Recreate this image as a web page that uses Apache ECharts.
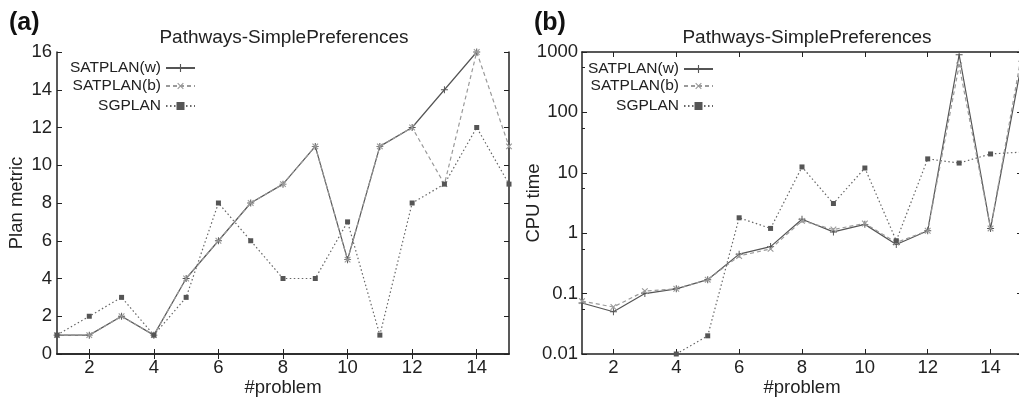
<!DOCTYPE html>
<html>
<head>
<meta charset="utf-8">
<script src="https://cdn.jsdelivr.net/npm/echarts@6/dist/echarts.min.js"></script>
<style>
  html, body { margin: 0; padding: 0; background: #fff; }
  #chart { width: 1019px; height: 399px; }
</style>
</head>
<body>
<div id="chart"></div>
<script>
// problem numbers on x axis
var problems = ['1', '2', '3', '4', '5', '6', '7', '8', '9', '10', '11', '12', '13', '14', '15']

// (a) plan metric
var metricW = [1, 1, 2, 1, 4, 6, 8, 9, 11, 5, 11, 12, 14, 16, null]
var metricB = [1, 1, 2, 1, 4, 6, 8, 9, 11, 5, 11, 12, 9, 16, 11]
var metricSG = [1, 2, 3, 1, 3, 8, 6, 4, 4, 7, 1, 8, 9, 12, 9]

// (b) cpu time (log)
var cpuW = [0.07, 0.05, 0.1, 0.12, 0.17, 0.45, 0.6, 1.7, 1.05, 1.4, 0.65, 1.1, 900, 1.2, 700]
var cpuB = [0.075, 0.06, 0.11, 0.12, 0.17, 0.42, 0.55, 1.6, 1.15, 1.45, 0.7, 1.1, 600, 1.2, 1000]
var cpuSG = [null, null, null, 0.01, 0.02, 1.8, 1.2, 12.5, 3.1, 12, 0.75, 17, 14.5, 20.5, 22]

var FONT = 'Liberation Sans'
var LBL = 18.5 // axis label size
var axisCol = '#222'
var plusPath = 'path://M4.3,0h1.4v4.3h4.3v1.4h-4.3v4.3h-1.4v-4.3h-4.3v-1.4h4.3z'

var evenOnly = function(i) { return i % 2 === 1 }

function bottomX(grid, name) {
  return {
    type: 'category', gridIndex: grid, data: problems, boundaryGap: false,
    name: name, nameLocation: 'middle', nameGap: 24, nameMoveOverlap: false,
    nameTextStyle: { fontFamily: FONT, fontSize: LBL, color: '#222' },
    axisLine: { lineStyle: { color: axisCol, width: 1.5 } },
    axisTick: { inside: true, length: 5, interval: evenOnly, lineStyle: { color: axisCol } },
    axisLabel: { interval: evenOnly, margin: 4, fontFamily: FONT, fontSize: LBL, color: '#222' },
    splitLine: { show: false }
  }
}
function topX(grid) {
  return {
    type: 'category', gridIndex: grid, data: problems, boundaryGap: false, position: 'top',
    axisLine: { lineStyle: { color: axisCol, width: 1.5 } },
    axisTick: { inside: true, length: 5, interval: evenOnly, lineStyle: { color: axisCol } },
    axisLabel: { show: false },
    splitLine: { show: false }
  }
}

var titleStyle = { fontFamily: FONT, fontSize: 19, fontWeight: 'normal', color: '#222' }
var legendText = { fontFamily: FONT, fontSize: 15.5, color: '#222' }

function legendRow(name, right, top) {
  return {
    data: [name], right: right, top: top, align: 'right',
    itemWidth: 29, itemHeight: 10, itemGap: 0,
    textStyle: legendText, selectedMode: false, padding: 0
  }
}

function lineSeries(name, xi, yi, data, style) {
  return Object.assign({
    name: name, type: 'line', xAxisIndex: xi, yAxisIndex: yi, data: data,
    connectNulls: false, animation: false
  }, style)
}

var styleW = {
  symbol: plusPath, symbolSize: 7,
  lineStyle: { color: '#555', width: 1.2, type: 'solid' },
  itemStyle: { color: '#555' }
}
var styleB = {
  symbol: plusPath, symbolSize: 8, symbolRotate: 45,
  lineStyle: { color: '#9a9a9a', width: 1.2, type: [4, 3] },
  itemStyle: { color: '#9a9a9a' }
}
var styleSG = {
  symbol: 'rect', symbolSize: 5,
  lineStyle: { color: '#666', width: 1.2, type: [1.5, 2.5] },
  itemStyle: { color: '#555' }
}

var option = {
  backgroundColor: '#fff',
  animation: false,
  title: [
    { text: '(a)', left: 4, top: 6, textStyle: { fontFamily: FONT, fontSize: 25, fontWeight: 'bold', color: '#111' } },
    { text: '(b)', left: 529, top: 6, textStyle: { fontFamily: FONT, fontSize: 25, fontWeight: 'bold', color: '#111' } },
    { text: 'Pathways-SimplePreferences', left: 279, top: 23, textAlign: 'center', textStyle: titleStyle },
    { text: 'Pathways-SimplePreferences', left: 802, top: 23, textAlign: 'center', textStyle: titleStyle }
  ],
  legend: [
    legendRow('SATPLAN(w)', 823, 60),
    legendRow('SATPLAN(b)', 823, 78),
    legendRow('SGPLAN', 823, 98),
    legendRow('SATPLAN(w)', 305, 61),
    legendRow('SATPLAN(b)', 305, 78),
    legendRow('SGPLAN', 305, 98)
  ],
  grid: [
    { left: 57, width: 452, top: 52, bottom: 45, outerBoundsMode: 'none', containLabel: false },
    { left: 582, width: 440, top: 52, bottom: 45, outerBoundsMode: 'none', containLabel: false }
  ],
  xAxis: [bottomX(0, '#problem'), topX(0), bottomX(1, '#problem'), topX(1)],
  yAxis: [
    {
      type: 'value', gridIndex: 0, min: 0, max: 16, interval: 2,
      name: 'Plan metric', nameLocation: 'middle', nameGap: 31, nameMoveOverlap: false,
      nameTextStyle: { fontFamily: FONT, fontSize: LBL, color: '#222' },
      axisLine: { show: true, lineStyle: { color: axisCol, width: 1.5 } },
      axisTick: { show: true, inside: true, length: 5, lineStyle: { color: axisCol } },
      axisLabel: { margin: 5, fontFamily: FONT, fontSize: LBL, color: '#222' },
      splitLine: { show: false }
    },
    {
      type: 'value', gridIndex: 0, min: 0, max: 16, interval: 2, position: 'right',
      axisLine: { show: true, lineStyle: { color: axisCol, width: 1.5 } },
      axisTick: { show: true, inside: true, length: 5, lineStyle: { color: axisCol } },
      axisLabel: { show: false },
      splitLine: { show: false }
    },
    {
      type: 'log', logBase: 10, gridIndex: 1, min: 0.01, max: 1000,
      name: 'CPU time', nameLocation: 'middle', nameGap: 39, nameMoveOverlap: false,
      nameTextStyle: { fontFamily: FONT, fontSize: LBL, color: '#222' },
      axisLine: { show: true, lineStyle: { color: axisCol, width: 1.5 } },
      axisTick: { show: true, inside: true, length: 5, lineStyle: { color: axisCol } },
      minorTick: { show: true, splitNumber: 2, length: 3, lineStyle: { color: axisCol } },
      axisLabel: {
        margin: 4, fontFamily: FONT, fontSize: LBL, color: '#222',
        formatter: function(v) { return String(parseFloat(Number(v).toPrecision(3))) }
      },
      splitLine: { show: false }
    },
    {
      type: 'log', logBase: 10, gridIndex: 1, min: 0.01, max: 1000, position: 'right',
      axisLine: { show: true, lineStyle: { color: axisCol, width: 1.5 } },
      axisTick: { show: true, inside: true, length: 5, lineStyle: { color: axisCol } },
      axisLabel: { show: false },
      splitLine: { show: false }
    }
  ],
  series: [
    lineSeries('SATPLAN(w)', 0, 0, metricW, styleW),
    lineSeries('SATPLAN(b)', 0, 0, metricB, styleB),
    lineSeries('SGPLAN', 0, 0, metricSG, styleSG),
    lineSeries('SATPLAN(w)', 2, 2, cpuW, styleW),
    lineSeries('SATPLAN(b)', 2, 2, cpuB, styleB),
    lineSeries('SGPLAN', 2, 2, cpuSG, styleSG)
  ]
}

var myChart = echarts.init(document.getElementById('chart'))
myChart.setOption(option)
</script>
</body>
</html>
